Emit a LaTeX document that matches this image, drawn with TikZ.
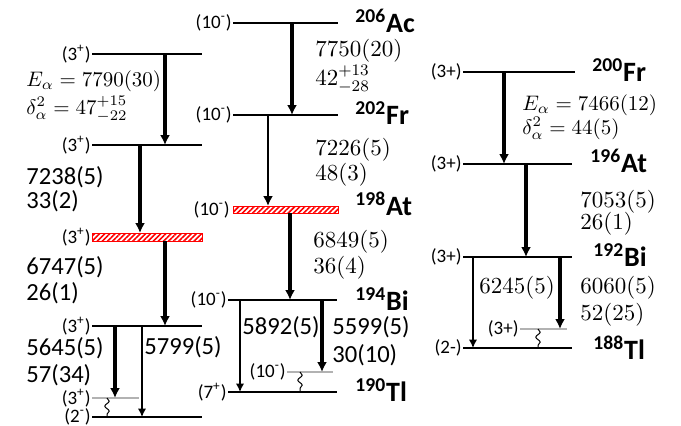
\documentclass[tikz,border=0pt]{standalone}
\usepackage{fix-cm}
\usepackage[no-math]{fontspec}
\setmainfont{Carlito}
\usepackage{amsmath}
\usepackage{tikz}
\usetikzlibrary{arrows.meta,patterns.meta,decorations.pathmorphing}
\begin{document}
\begin{tikzpicture}[x=0.5pt,y=-0.5pt]
\tikzstyle{niveau}=[line width=0.8pt]
\tikzstyle{niveaugris}=[line width=0.6pt,gray!60]
\tikzstyle{fleche}=[-{Latex[length=5pt,width=5pt]},line width=1.6pt]
\tikzstyle{flechefine}=[-{Latex[length=4.2pt,width=4.2pt]},line width=0.8pt]
\tikzstyle{onde}=[decorate,decoration={snake,segment length=5pt,amplitude=1.1pt},line width=0.5pt]
\tikzstyle{hachure}=[draw=red,line width=0.5pt,pattern={Lines[angle=45,distance=1.8pt,line width=0.8pt]},pattern color=red]
\tikzstyle{spin}=[anchor=east,inner sep=0.5pt,font=\fontsize{9.5}{10}\selectfont]
\tikzstyle{noyau}=[anchor=west,inner sep=0pt,font=\fontsize{14}{14}\selectfont\bfseries]
\tikzstyle{valeur}=[anchor=west,inner sep=0pt,font=\fontsize{12.3}{13}\selectfont]
\tikzstyle{valeurm}=[anchor=west,inner sep=0pt,font=\fontsize{11.5}{12}\selectfont]
\tikzstyle{valeurE}=[anchor=west,inner sep=0pt,text height=6.5pt,text depth=1pt,font=\fontsize{10.5}{11}\selectfont]
\useasboundingbox (0,0) rectangle (681,425);
% colonne gauche
\def\GA{54}
\def\GB{145}
\def\GC{237}
\def\GD{326}
\def\GE{398}
\def\GF{417}
\node[spin] (sg1) at (92,\GA) {(3\textsuperscript{+})};
\node[spin] (sg2) at (92,\GB) {(3\textsuperscript{+})};
\node[spin] (sg3) at (92,\GC) {(3\textsuperscript{+})};
\node[spin] (sg4) at (92,\GD) {(3\textsuperscript{+})};
\node[spin] (sg5) at (92,\GE) {(3\textsuperscript{+})};
\node[spin] (sg6) at (92,\GF) {(2\textsuperscript{-})};
\draw[niveau] (92,\GA) -- (202,\GA);
\draw[niveau] (92,\GB) -- (202,\GB);
\draw[hachure] (92,233) rectangle (202,241);
\draw[niveau] (92,\GD) -- (202,\GD);
\draw[niveaugris] (92,\GE) -- (139,\GE);
\draw[niveau] (92,\GF) -- (202,\GF);
\coordinate (ga1) at (165,\GA);
\coordinate (gb1) at (165,\GB);
\coordinate (ga2) at (140,\GB);
\coordinate (gb2) at (140,233);
\coordinate (ga3) at (165,241);
\coordinate (gb3) at (165,\GD);
\coordinate (ga4) at (115,\GD);
\coordinate (gb4) at (115,\GE);
\coordinate (ga5) at (142,\GD);
\coordinate (gb5) at (142,\GF);
\coordinate (go1) at (107,\GE);
\coordinate (go2) at (107,\GF);
\draw[fleche] (ga1)--(gb1);
\draw[fleche] (ga2)--(gb2);
\draw[fleche] (ga3)--(gb3);
\draw[fleche] (ga4)--(gb4);
\draw[flechefine] (ga5)--(gb5);
\draw[onde] (go1)--(go2);
\node[valeurE] (gE) at (26,81) {$E_\alpha = 7790(30)$};
\node[valeurE] (gD) at (26,109) {$\delta_\alpha^2 = 47^{+15}_{-22}$};
\node[valeur] (gv1) at (26,177) {7238(5)};
\node[valeur] (gw1) at (26,201) {33(2)};
\node[valeur] (gv2) at (26,267) {6747(5)};
\node[valeur] (gw2) at (26,293) {26(1)};
\node[valeur] (gv3) at (26,348) {5645(5)};
\node[valeur] (gw3) at (26,375) {57(34)};
\node[valeur] (gv4) at (144,347) {5799(5)};
% colonne du milieu
\def\MA{23}
\def\MB{115}
\def\MC{210}
\def\MD{300}
\def\ME{372}
\def\MF{392}
\node[spin] (sm1) at (233,\MA) {(10\textsuperscript{-})};
\node[spin] (sm2) at (233,\MB) {(10\textsuperscript{-})};
\node[spin] (sm3) at (231,\MC) {(10\textsuperscript{-})};
\node[spin] (sm4) at (228,\MD) {(10\textsuperscript{-})};
\node[spin] (sm5) at (287,\ME) {(10\textsuperscript{-})};
\node[spin] (sm6) at (228,\MF) {(7\textsuperscript{+})};
\draw[niveau] (233,\MA) -- (338,\MA);
\draw[niveau] (233,\MB) -- (338,\MB);
\draw[hachure] (233,206) rectangle (338,213);
\draw[niveau] (228,\MD) -- (337,\MD);
\draw[niveaugris] (287,\ME) -- (333,\ME);
\draw[niveau] (228,\MF) -- (337,\MF);
\coordinate (ma1) at (292,\MA);
\coordinate (mb1) at (292,\MB);
\coordinate (ma2) at (268,\MB);
\coordinate (mb2) at (268,206);
\coordinate (ma3) at (290,213);
\coordinate (mb3) at (290,\MD);
\coordinate (ma4) at (240,\MD);
\coordinate (mb4) at (240,\MF);
\coordinate (ma5) at (322,\MD);
\coordinate (mb5) at (322,\ME);
\coordinate (mo1) at (300,\ME);
\coordinate (mo2) at (300,\MF);
\draw[fleche] (ma1)--(mb1);
\draw[fleche,line width=1.2pt] (ma2)--(mb2);
\draw[fleche] (ma3)--(mb3);
\draw[flechefine] (ma4)--(mb4);
\draw[fleche] (ma5)--(mb5);
\draw[onde] (mo1)--(mo2);
\node[noyau] (Ac206) at (355,21) {\textsuperscript{206}Ac};
\node[noyau] (Fr202) at (355,113) {\textsuperscript{202}Fr};
\node[noyau] (At198) at (355,204) {\textsuperscript{198}At};
\node[noyau] (Bi194) at (355,299) {\textsuperscript{194}Bi};
\node[noyau] (Tl190) at (355,390) {\textsuperscript{190}Tl};
\node[valeurm] (mv1) at (315,51) {$7750(20)$};
\node[valeurm] (mw1) at (315,79) {$42^{+13}_{-28}$};
\node[valeurm] (mv2) at (315,150) {$7226(5)$};
\node[valeurm] (mw2) at (315,175) {$48(3)$};
\node[valeurm] (mv3) at (313,242) {$6849(5)$};
\node[valeurm] (mw3) at (313,268) {$36(4)$};
\node[valeur] (mv4) at (242,327) {5892(5)};
\node[valeur] (mv5) at (332,327) {5599(5)};
\node[valeur] (mw5) at (332,355) {30(10)};
% colonne de droite
\def\DA{72}
\def\DB{164}
\def\DC{257}
\def\DD{329}
\def\DE{348}
\node[spin] (sd1) at (463,\DA) {(3+)};
\node[spin] (sd2) at (463,\DB) {(3+)};
\node[spin] (sd3) at (463,\DC) {(3+)};
\node[spin] (sd4) at (520,\DD) {(3+)};
\node[spin] (sd5) at (463,\DE) {(2-)};
\draw[niveau] (463,\DA) -- (575,\DA);
\draw[niveau] (463,\DB) -- (572,\DB);
\draw[niveau] (463,\DC) -- (572,\DC);
\draw[niveaugris] (520,\DD) -- (567,\DD);
\draw[niveau] (463,\DE) -- (572,\DE);
\coordinate (da1) at (504,\DA);
\coordinate (db1) at (504,\DB);
\coordinate (da2) at (526,\DB);
\coordinate (db2) at (526,\DC);
\coordinate (da3) at (473,\DC);
\coordinate (db3) at (473,\DE);
\coordinate (da4) at (560,\DC);
\coordinate (db4) at (560,\DD);
\coordinate (do1) at (538,\DD);
\coordinate (do2) at (538,\DE);
\draw[fleche] (da1)--(db1);
\draw[fleche] (da2)--(db2);
\draw[flechefine] (da3)--(db3);
\draw[fleche] (da4)--(db4);
\draw[onde] (do1)--(do2);
\node[noyau] (Fr200) at (592,70) {\textsuperscript{200}Fr};
\node[noyau] (At196) at (590,161) {\textsuperscript{196}At};
\node[noyau] (Bi192) at (593,255) {\textsuperscript{192}Bi};
\node[noyau] (Tl188) at (593,348) {\textsuperscript{188}Tl};
\node[valeurE] (dE) at (522,105) {$E_\alpha = 7466(12)$};
\node[valeurE] (dD) at (522,129) {$\delta_\alpha^2 = 44(5)$};
\node[valeurm] (dv1) at (580,202) {$7053(5)$};
\node[valeurm] (dw1) at (580,224) {$26(1)$};
\node[valeurm] (dv2) at (479,288) {$6245(5)$};
\node[valeurm] (dv3) at (580,288) {$6060(5)$};
\node[valeurm] (dw3) at (580,315) {$52(25)$};
\end{tikzpicture}
\end{document}
